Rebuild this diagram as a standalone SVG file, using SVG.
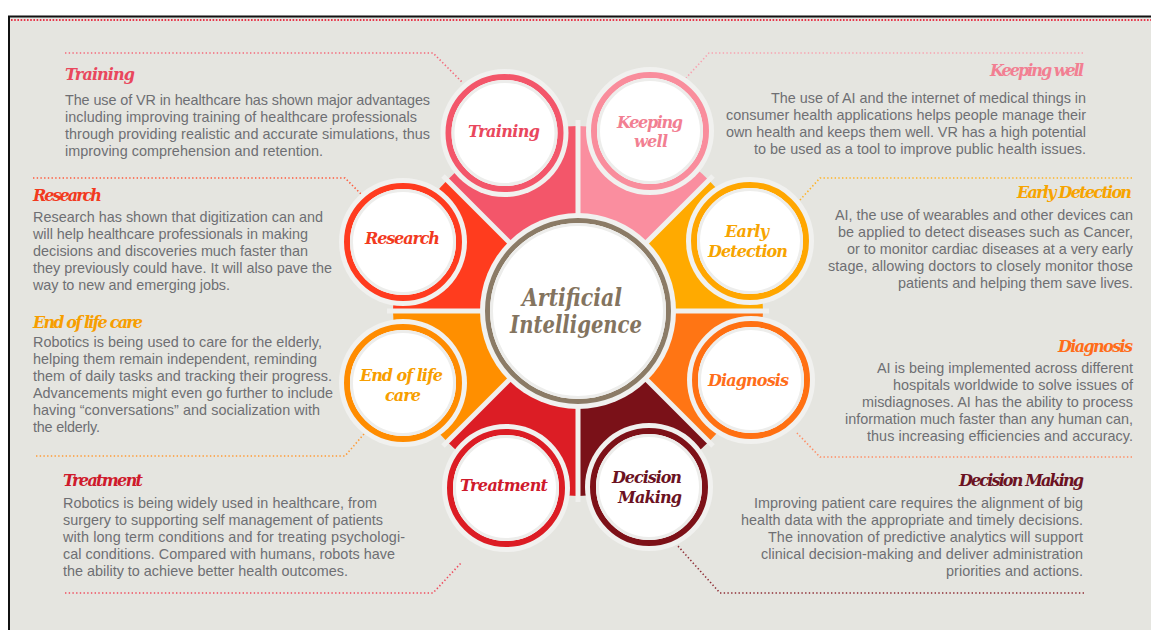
<svg xmlns="http://www.w3.org/2000/svg" width="1151" height="630" viewBox="0 0 1151 630">
  <style>
    .head { font-family: "DejaVu Serif", "Liberation Serif", serif; font-style: italic; font-weight: bold; font-size: 16px; }
    .label { font-family: "DejaVu Serif", "Liberation Serif", serif; font-style: italic; font-weight: bold; font-size: 16px; text-anchor: middle; }
    .core { font-family: "DejaVu Serif", "Liberation Serif", serif; font-style: italic; font-weight: bold; font-size: 25px; text-anchor: middle; fill: #84745f; }
    .body { font-family: "Liberation Sans", Arial, sans-serif; font-size: 14.4px; fill: #6e6f73; }
    .end { text-anchor: end; }
    .lead { fill: none; stroke-width: 1.6; stroke-dasharray: 1.4 2.3; stroke-linecap: butt; }
    .halo { fill: #f1f1ef; }
    .ring { fill: #ffffff; stroke-width: 6; }
    .inner { fill: none; stroke: #ededeb; stroke-width: 3; }
    .gap { stroke: #f0f0ee; stroke-width: 5; }
  </style>

  <!-- page frame -->
  <rect x="0" y="0" width="1151" height="630" fill="#ffffff"/>
  <rect x="10" y="17" width="1141" height="613" fill="#e5e5e0"/>
  <line x1="8" y1="16.5" x2="1151" y2="16.5" stroke="#111111" stroke-width="2"/>
  <line x1="9" y1="16" x2="9" y2="630" stroke="#111111" stroke-width="2"/>
  <line x1="11" y1="20" x2="1151" y2="20" stroke="#e8364a" stroke-width="2" stroke-dasharray="1.6 1.6"/>

  <!-- connectors: dotted leaders from text blocks to circles -->
  <g id="connectors">
    <path class="lead" stroke="#f4687a" d="M65,53 H433 L462,82"/>
    <path class="lead" stroke="#f8a2b0" d="M1083,53 H709 L686,78"/>
    <path class="lead" stroke="#ff5a3c" d="M33,178 H345 L362,195"/>
    <path class="lead" stroke="#ffb224" d="M1132,178 H820 L800,200"/>
    <path class="lead" stroke="#ff9a34" d="M36,456 H345 L364,434"/>
    <path class="lead" stroke="#ff8c62" d="M1132,457 H820 L797,433"/>
    <path class="lead" stroke="#ef4c5e" d="M65,593 H433 L461,563"/>
    <path class="lead" stroke="#8e2c34" d="M1084,593 H720 L677,545"/>
  </g>

  <!-- coloured sectors behind the circles -->
  <g id="sectors">
    <path fill="#f3566a" d="M578,311 L447.2,180.2 A185,185 0 0 1 578,126 Z"/>
    <path fill="#fa8e9f" d="M578,311 L578,126 A185,185 0 0 1 708.8,180.2 Z"/>
    <path fill="#ffaa00" d="M578,311 L708.8,180.2 A185,185 0 0 1 763,311 Z"/>
    <path fill="#ff7514" d="M578,311 L763,311 A185,185 0 0 1 708.8,441.8 Z"/>
    <path fill="#7a1118" d="M578,311 L708.8,441.8 A185,185 0 0 1 578,496 Z"/>
    <path fill="#dc1d25" d="M578,311 L578,496 A185,185 0 0 1 447.2,441.8 Z"/>
    <path fill="#ff8f00" d="M578,311 L447.2,441.8 A185,185 0 0 1 393,311 Z"/>
    <path fill="#ff3c1e" d="M578,311 L393,311 A185,185 0 0 1 447.2,180.2 Z"/>
    <line class="gap" x1="578" y1="120" x2="578" y2="502"/>
    <line class="gap" x1="387" y1="311" x2="769" y2="311"/>
    <line class="gap" x1="443" y1="176" x2="713" y2="446"/>
    <line class="gap" x1="443" y1="446" x2="713" y2="176"/>
  </g>

  <!-- Training -->
  <g id="training">
    <circle class="halo" cx="504.5" cy="133" r="64"/>
    <circle class="ring" cx="504.5" cy="133" r="56" stroke="#f3566a"/>
    <circle class="inner" cx="504.5" cy="133" r="51.5"/>
    <text class="label" x="504" y="137" fill="#e9475d" textLength="72">Training</text>
    <text class="head" x="65" y="80" fill="#e9475d" textLength="70">Training</text>
    <text class="body" x="65" y="105" textLength="365">The use of VR in healthcare has shown major advantages</text>
    <text class="body" x="65" y="122" textLength="352">including improving training of healthcare professionals</text>
    <text class="body" x="65" y="139" textLength="365">through providing realistic and accurate simulations, thus</text>
    <text class="body" x="65" y="156" textLength="258">improving comprehension and retention.</text>
  </g>

  <!-- Keeping well -->
  <g id="keeping-well">
    <circle class="halo" cx="650" cy="131" r="64"/>
    <circle class="ring" cx="650" cy="131" r="56" stroke="#f98d9c"/>
    <circle class="inner" cx="650" cy="131" r="51.5"/>
    <text class="label" x="650" y="128" fill="#f27f92" textLength="66">Keeping</text>
    <text class="label" x="651" y="147" fill="#f27f92" textLength="34">well</text>
    <text class="head end" x="1084" y="76" fill="#f27f92" textLength="94">Keeping well</text>
    <text class="body end" x="1086" y="103" textLength="315">The use of AI and the internet of medical things in</text>
    <text class="body end" x="1086" y="120" textLength="360">consumer health applications helps people manage their</text>
    <text class="body end" x="1086" y="137" textLength="360">own health and keeps them well. VR has a high potential</text>
    <text class="body end" x="1086" y="154" textLength="332">to be used as a tool to improve public health issues.</text>
  </g>

  <!-- Research -->
  <g id="research">
    <circle class="halo" cx="403" cy="242" r="64"/>
    <circle class="ring" cx="403" cy="242" r="56" stroke="#ff3b1f"/>
    <circle class="inner" cx="403" cy="242" r="51.5"/>
    <text class="label" x="402.5" y="244" fill="#f23a1e" textLength="75">Research</text>
    <text class="head" x="33" y="201" fill="#f23a1e" textLength="69">Research</text>
    <text class="body" x="33" y="222" textLength="290">Research has shown that digitization can and</text>
    <text class="body" x="33" y="239" textLength="275">will help healthcare professionals in making</text>
    <text class="body" x="33" y="256" textLength="275">decisions and discoveries much faster than</text>
    <text class="body" x="33" y="273" textLength="299">they previously could have. It will also pave the</text>
    <text class="body" x="33" y="290" textLength="197">way to new and emerging jobs.</text>
  </g>

  <!-- Early Detection -->
  <g id="early-detection">
    <circle class="halo" cx="750" cy="241" r="64"/>
    <circle class="ring" cx="750" cy="241" r="56" stroke="#ffa600"/>
    <circle class="inner" cx="750" cy="241" r="51.5"/>
    <text class="label" x="747" y="237" fill="#f7a400" textLength="44">Early</text>
    <text class="label" x="748" y="257" fill="#f7a400" textLength="80">Detection</text>
    <text class="head end" x="1132" y="198" fill="#f7a400" textLength="115">Early Detection</text>
    <text class="body end" x="1133" y="220" textLength="298">AI, the use of wearables and other devices can</text>
    <text class="body end" x="1133" y="237" textLength="295">be applied to detect diseases such as Cancer,</text>
    <text class="body end" x="1133" y="254" textLength="286">or to monitor cardiac diseases at a very early</text>
    <text class="body end" x="1133" y="271" textLength="305">stage, allowing doctors to closely monitor those</text>
    <text class="body end" x="1133" y="288" textLength="235">patients and helping them save lives.</text>
  </g>

  <!-- Diagnosis -->
  <g id="diagnosis">
    <circle class="halo" cx="751" cy="380" r="64"/>
    <circle class="ring" cx="751" cy="380" r="56" stroke="#ff7012"/>
    <circle class="inner" cx="751" cy="380" r="51.5"/>
    <text class="label" x="748.5" y="386" fill="#ff6d1a" textLength="81">Diagnosis</text>
    <text class="head end" x="1133" y="352" fill="#ff6d1a" textLength="75">Diagnosis</text>
    <text class="body end" x="1133" y="373" textLength="256">AI is being implemented across different</text>
    <text class="body end" x="1133" y="390" textLength="240">hospitals worldwide to solve issues of</text>
    <text class="body end" x="1133" y="407" textLength="271">misdiagnoses. AI has the ability to process</text>
    <text class="body end" x="1133" y="424" textLength="288">information much faster than any human can,</text>
    <text class="body end" x="1133" y="441" textLength="266">thus increasing efficiencies and accuracy.</text>
  </g>

  <!-- Decision Making -->
  <g id="decision-making">
    <circle class="halo" cx="649" cy="487" r="64"/>
    <circle class="ring" cx="649" cy="487" r="56" stroke="#7d1118"/>
    <circle class="inner" cx="649" cy="487" r="51.5"/>
    <text class="label" x="647" y="483" fill="#6b1222" textLength="70">Decision</text>
    <text class="label" x="650" y="503" fill="#6b1222" textLength="64">Making</text>
    <text class="head end" x="1084" y="486" fill="#6b1222" textLength="125">Decision Making</text>
    <text class="body end" x="1083" y="508" textLength="329">Improving patient care requires the alignment of big</text>
    <text class="body end" x="1083" y="525" textLength="342">health data with the appropriate and timely decisions.</text>
    <text class="body end" x="1083" y="542" textLength="315">The innovation of predictive analytics will support</text>
    <text class="body end" x="1083" y="559" textLength="322">clinical decision-making and deliver administration</text>
    <text class="body end" x="1083" y="576" textLength="137">priorities and actions.</text>
  </g>

  <!-- Treatment -->
  <g id="treatment">
    <circle class="halo" cx="506" cy="488" r="64"/>
    <circle class="ring" cx="506" cy="488" r="56" stroke="#dc1c24"/>
    <circle class="inner" cx="506" cy="488" r="51.5"/>
    <text class="label" x="504" y="491" fill="#cf1a2c" textLength="88">Treatment</text>
    <text class="head" x="63" y="486" fill="#cf1a2c" textLength="80">Treatment</text>
    <text class="body" x="63" y="508" textLength="314">Robotics is being widely used in healthcare, from</text>
    <text class="body" x="63" y="525" textLength="320">surgery to supporting self management of patients</text>
    <text class="body" x="63" y="542" textLength="342">with long term conditions and for treating psychologi-</text>
    <text class="body" x="63" y="559" textLength="332">cal conditions. Compared with humans, robots have</text>
    <text class="body" x="63" y="576" textLength="285">the ability to achieve better health outcomes.</text>
  </g>

  <!-- End of life care -->
  <g id="end-of-life-care">
    <circle class="halo" cx="403" cy="383" r="64"/>
    <circle class="ring" cx="403" cy="383" r="56" stroke="#ff8c00"/>
    <circle class="inner" cx="403" cy="383" r="51.5"/>
    <text class="label" x="401.5" y="381" fill="#f79e00" textLength="83">End of life</text>
    <text class="label" x="403" y="401" fill="#f79e00" textLength="36">care</text>
    <text class="head" x="33" y="328" fill="#f79e00" textLength="110">End of life care</text>
    <text class="body" x="33" y="347" textLength="289">Robotics is being used to care for the elderly,</text>
    <text class="body" x="33" y="364" textLength="284">helping them remain independent, reminding</text>
    <text class="body" x="33" y="381" textLength="299">them of daily tasks and tracking their progress.</text>
    <text class="body" x="33" y="398" textLength="300">Advancements might even go further to include</text>
    <text class="body" x="33" y="415" textLength="287">having “conversations” and socialization with</text>
    <text class="body" x="33" y="432" textLength="67">the elderly.</text>
  </g>

  <!-- Artificial Intelligence hub -->
  <g id="artificial-intelligence">
    <circle cx="578" cy="311" r="98" fill="#f1f1ef"/>
    <circle cx="578" cy="311" r="90.5" fill="#ffffff" stroke="#8b7b66" stroke-width="5"/>
    <circle cx="578" cy="311" r="86.5" fill="none" stroke="#ededeb" stroke-width="3"/>
    <text class="core" x="572" y="306" textLength="100" lengthAdjust="spacingAndGlyphs">Artificial</text>
    <text class="core" x="576" y="333" textLength="132" lengthAdjust="spacingAndGlyphs">Intelligence</text>
  </g>
</svg>
